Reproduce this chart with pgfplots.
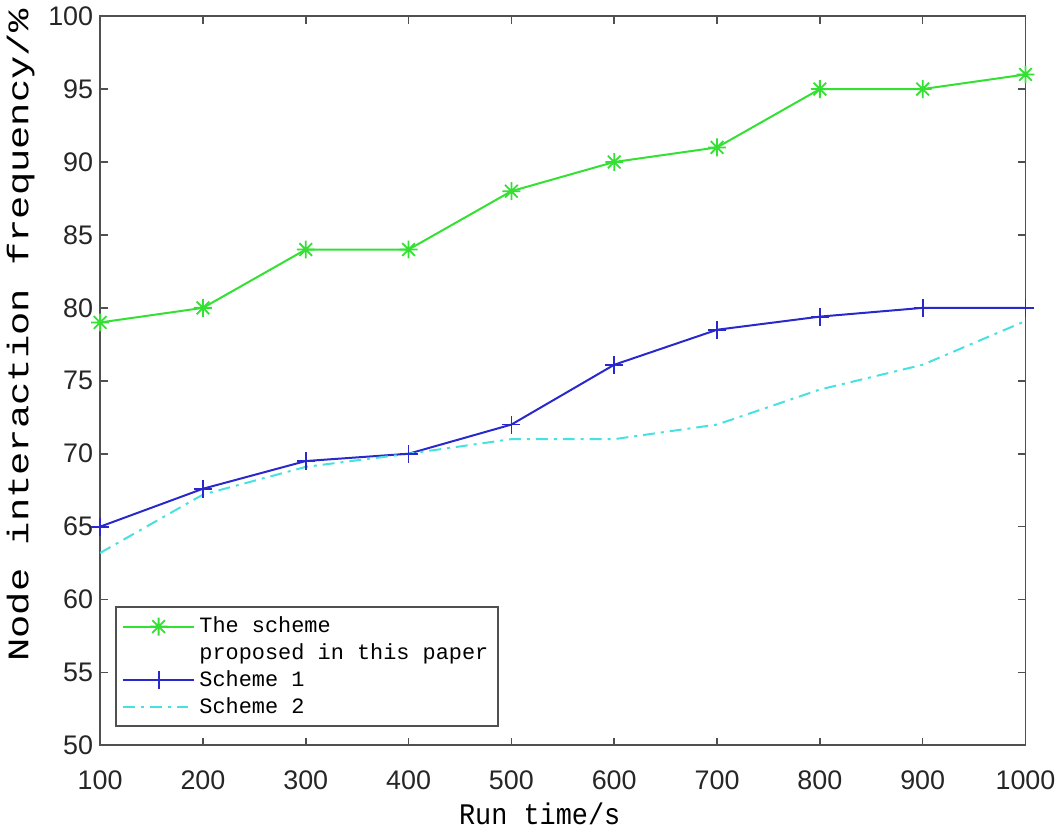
\documentclass[border=0pt]{standalone}
\usepackage{fontspec}
\setmainfont{Liberation Sans}
\newfontfamily\labfont[FakeStretch=0.9]{Liberation Mono}
\newfontfamily\ylabfont[FakeStretch=1.3]{Liberation Mono}
\newfontfamily\legfont{Liberation Mono}
\usepackage{pgfplots}
\pgfplotsset{compat=1.18}

\definecolor{cgreen}{RGB}{50,225,50}
\definecolor{cblue}{RGB}{40,40,205}
\definecolor{ccyan}{RGB}{70,225,225}
\definecolor{axgray}{RGB}{80,80,80}

% MATLAB-like eight-armed asterisk
\pgfdeclareplotmark{star8}{%
  \pgfpathmoveto{\pgfqpoint{-\pgfplotmarksize}{0pt}}%
  \pgfpathlineto{\pgfqpoint{\pgfplotmarksize}{0pt}}%
  \pgfpathmoveto{\pgfqpoint{0pt}{-\pgfplotmarksize}}%
  \pgfpathlineto{\pgfqpoint{0pt}{\pgfplotmarksize}}%
  \pgfpathmoveto{\pgfqpoint{-0.707\pgfplotmarksize}{-0.707\pgfplotmarksize}}%
  \pgfpathlineto{\pgfqpoint{0.707\pgfplotmarksize}{0.707\pgfplotmarksize}}%
  \pgfpathmoveto{\pgfqpoint{-0.707\pgfplotmarksize}{0.707\pgfplotmarksize}}%
  \pgfpathlineto{\pgfqpoint{0.707\pgfplotmarksize}{-0.707\pgfplotmarksize}}%
  \pgfusepathqstroke}

\begin{document}
\begin{tikzpicture}
\begin{axis}[
  scale only axis,
  width=465pt, height=366.5pt,
  xmin=100, xmax=1000, ymin=50, ymax=100,
  xtick={100,200,...,1000},
  ytick={50,55,...,100},
  xtick pos=both, ytick pos=both,
  xticklabel pos=lower, yticklabel pos=left,
  tick align=inside,
  major tick length=4pt,
  axis line style={draw=axgray, line width=1pt},
  tick style={draw=axgray, line width=0.8pt},
  /pgf/number format/assume math mode=true,
  /pgf/number format/1000 sep={},
  ticklabel style={font=\fontsize{13.5}{14}\selectfont, text=black!85},
  xticklabel style={yshift=-9pt},
  xlabel={Run time/s},
  ylabel={Node interaction frequency/\%},
  xlabel style={font=\labfont\fontsize{15}{16}\selectfont, at={(axis description cs:0.475,-0.094)}, anchor=center},
  ylabel style={font=\ylabfont\fontsize{15}{16}\selectfont, at={(axis description cs:-0.086,0.562)}, anchor=center},
  legend style={
    at={(axis description cs:0.016,0.025)}, anchor=south west,
    font=\legfont\fontsize{11}{12}\selectfont,
    draw=axgray, line width=0.9pt,
    row sep=0pt,
    nodes={inner sep=2pt},
    inner xsep=3pt, inner ysep=3pt,
  },
  legend cell align=left,
  legend image code/.code={
    \draw[mark repeat=2, mark phase=2, #1] plot coordinates {(0pt,0pt) (18pt,0pt) (36pt,0pt)};
  },
]
\addplot[color=cgreen, line width=1pt, mark=star8, mark size=4.5pt, mark options={line width=0.9pt}]
  coordinates {
  (100,79) (200,80) (300,84) (400,84) (500,88)
  (600,90) (700,91) (800,95) (900,95) (1000,96)
};
\addlegendentry{The scheme}
\addlegendimage{empty legend}
\addlegendentry{proposed in this paper}

\addplot[color=cblue, line width=1pt, mark=+, mark size=4.5pt, mark options={line width=0.9pt}]
  coordinates {
  (100,65) (200,67.6) (300,69.5) (400,70) (500,72)
  (600,76.1) (700,78.5) (800,79.4) (900,80) (1000,80)
};
\addlegendentry{Scheme 1}

\addplot[color=ccyan, line width=1pt, dash pattern=on 6pt off 3pt on 1.5pt off 3pt]
  coordinates {
  (100,63.2) (200,67.2) (300,69.1) (400,70) (500,71)
  (600,71) (700,72) (800,74.4) (900,76.1) (1000,79.1)
};
\addlegendentry{Scheme 2}
\end{axis}
% small white margin below the x label
\node[inner sep=0pt, minimum size=0pt] at ([yshift=-43.5pt]current axis.south west) {};
\end{tikzpicture}
\end{document}
